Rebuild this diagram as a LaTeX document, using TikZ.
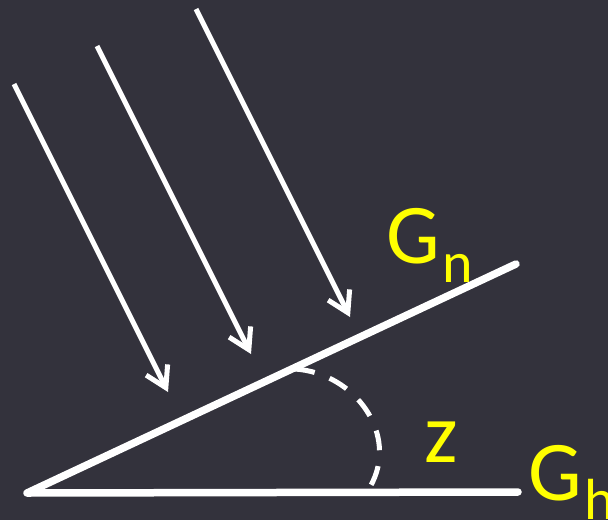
\documentclass[tikz,border=0pt]{standalone}
\usepackage{fontspec}
\setmainfont{Carlito}
\usetikzlibrary{arrows.meta}
\definecolor{slatebg}{RGB}{51,50,60}
\definecolor{lblyellow}{RGB}{255,255,0}
\tikzset{
  ray/.style={-{Straight Barb[length=20pt, width=24pt]}, white, line width=5pt},
  gnd/.style={white, line width=7.5pt, line cap=round, line join=round},
  ang/.style={white, line width=5pt, dash pattern=on 20pt off 16pt},
  glab/.style={text=lblyellow, font=\fontsize{85}{85}\selectfont, inner sep=0pt, anchor=base west},
}
\newcommand{\sublab}[2]{#1\kern3pt\raisebox{-19pt}{\fontsize{58}{58}\selectfont #2}}

\begin{document}
\begin{tikzpicture}[x=1pt, y=-1pt]
        \fill[slatebg] (0,0) rectangle (608,520);
        \useasboundingbox (0,0) rectangle (608,520);
        % incoming rays
        \foreach \x/\y in {14/84, 97/46, 196/9}{\draw[ray] (\x,\y) -- ++(154,308);}
        % tilted and horizontal surfaces
        \coordinate (vtx) at (27,493);
        \coordinate (tiltend) at (516,264);
        \coordinate (flatend) at (518,492);
        \draw[gnd] (tiltend) -- (vtx) -- (flatend);
        % angle
        \draw[ang] (295,369) .. controls (355,373) and (400,435) .. (370,487);
        \node[glab] (gn) at (386,263) {\sublab{G}{n}};
        \node[glab] (zlab) at (424,462) {z};
        \node[glab] (gh) at (528,500) {\sublab{G}{h}};
      \end{tikzpicture}
\end{document}
